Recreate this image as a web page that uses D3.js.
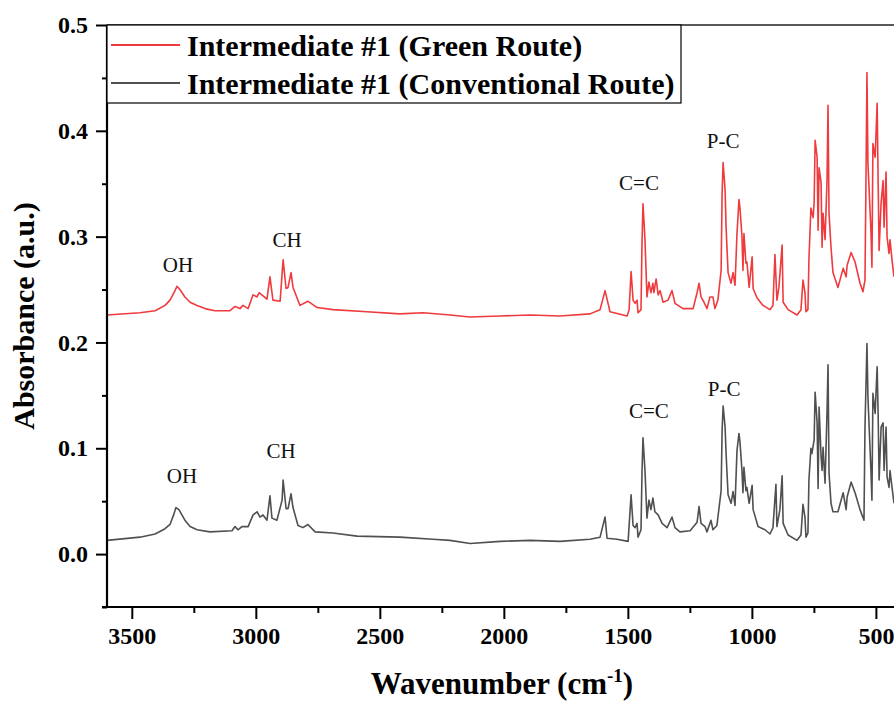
<!DOCTYPE html>
<html>
<head>
<meta charset="utf-8">
<script src="https://cdn.jsdelivr.net/npm/d3@7"></script>
<style>
  body { margin: 0; background: #fff; }
  text { font-family: "Liberation Serif", "Times New Roman", serif; }
</style>
</head>
<body>
<div id="chart"></div>
<script>
const width = 894;
const height = 702;

// spectra: [wavenumber (cm-1), absorbance]
const greenRoute = [
  [3600,0.226],[3467,0.228],[3406,0.230],[3366,0.235],[3346,0.240],[3330,0.247],[3318,0.253],
  [3306,0.250],[3286,0.243],[3265,0.238],[3237,0.235],[3205,0.232],[3165,0.230],
  [3104,0.230],[3084,0.234],[3064,0.232],[3052,0.235],[3031,0.232],[3011,0.245],[2995,0.243],
  [2987,0.247],[2955,0.241],[2943,0.262],[2931,0.240],[2902,0.239],[2890,0.278],[2878,0.251],
  [2870,0.252],[2858,0.266],[2850,0.252],[2822,0.235],[2790,0.239],[2753,0.233],[2689,0.231],
  [2552,0.229],[2419,0.227],[2326,0.228],[2217,0.226],[2136,0.224],[2015,0.225],[1894,0.226],
  [1773,0.225],[1653,0.227],[1612,0.231],[1592,0.249],[1572,0.229],[1503,0.225],[1495,0.231],
  [1487,0.267],[1479,0.240],[1471,0.237],[1463,0.240],[1459,0.228],[1447,0.231],[1443,0.294],
  [1439,0.331],[1431,0.297],[1423,0.243],[1415,0.257],[1407,0.247],[1399,0.256],[1395,0.247],
  [1386,0.260],[1378,0.245],[1370,0.249],[1358,0.238],[1338,0.240],[1322,0.249],[1310,0.237],
  [1278,0.232],[1237,0.232],[1221,0.247],[1213,0.256],[1205,0.243],[1193,0.238],[1181,0.232],
  [1169,0.243],[1157,0.243],[1149,0.232],[1137,0.240],[1124,0.268],[1120,0.341],[1116,0.370],
  [1108,0.344],[1104,0.309],[1096,0.266],[1084,0.256],[1076,0.266],[1068,0.254],[1060,0.303],
  [1052,0.335],[1048,0.327],[1040,0.300],[1036,0.268],[1032,0.303],[1024,0.275],[1020,0.276],
  [1011,0.252],[999,0.281],[995,0.251],[979,0.242],[955,0.235],[927,0.231],[915,0.235],
  [907,0.283],[899,0.240],[891,0.252],[878,0.292],[874,0.238],[854,0.231],[818,0.226],
  [802,0.231],[794,0.259],[786,0.247],[782,0.229],[774,0.231],[770,0.278],[762,0.327],
  [753,0.318],[749,0.332],[745,0.391],[737,0.375],[733,0.306],[729,0.365],[721,0.351],
  [717,0.290],[713,0.322],[705,0.297],[697,0.353],[693,0.424],[689,0.322],[681,0.290],
  [673,0.266],[653,0.252],[632,0.270],[620,0.262],[616,0.273],[600,0.285],[584,0.276],
  [564,0.256],[552,0.248],[544,0.259],[540,0.353],[536,0.455],[532,0.369],[520,0.306],
  [516,0.271],[512,0.388],[503,0.375],[495,0.426],[491,0.353],[487,0.287],[479,0.332],
  [471,0.353],[467,0.309],[459,0.361],[455,0.300],[447,0.284],[443,0.297],[435,0.278],
  [427,0.262]
];

const conventionalRoute = [
  [3600,0.013],[3467,0.016],[3406,0.019],[3366,0.024],[3346,0.028],[3330,0.038],[3322,0.044],
  [3310,0.042],[3286,0.032],[3265,0.026],[3237,0.023],[3185,0.021],
  [3096,0.022],[3084,0.026],[3072,0.023],[3056,0.026],[3031,0.026],[3011,0.037],[2995,0.040],
  [2983,0.035],[2971,0.037],[2955,0.032],[2943,0.055],[2935,0.034],[2915,0.032],[2894,0.051],
  [2890,0.070],[2878,0.043],[2870,0.043],[2858,0.057],[2850,0.044],[2830,0.027],[2810,0.025],
  [2790,0.028],[2761,0.021],[2689,0.020],[2592,0.017],[2419,0.016],[2286,0.014],[2217,0.013],
  [2136,0.010],[2015,0.012],[1894,0.013],[1773,0.012],[1653,0.014],[1612,0.016],[1592,0.035],
  [1584,0.015],[1544,0.014],[1499,0.012],[1487,0.056],[1479,0.027],[1471,0.025],[1463,0.029],
  [1459,0.016],[1447,0.023],[1443,0.077],[1439,0.110],[1431,0.079],[1423,0.034],[1415,0.051],
  [1407,0.042],[1399,0.053],[1391,0.040],[1378,0.037],[1362,0.029],[1342,0.025],[1322,0.035],
  [1310,0.025],[1290,0.021],[1249,0.022],[1221,0.030],[1213,0.045],[1205,0.029],[1189,0.026],
  [1181,0.021],[1165,0.032],[1157,0.023],[1141,0.027],[1124,0.060],[1120,0.117],[1116,0.140],
  [1108,0.120],[1104,0.095],[1096,0.056],[1084,0.048],[1076,0.059],[1068,0.046],[1060,0.098],
  [1052,0.114],[1048,0.106],[1040,0.079],[1036,0.058],[1032,0.082],[1024,0.060],[1020,0.063],
  [1011,0.048],[999,0.065],[995,0.042],[975,0.026],[947,0.023],[927,0.019],[915,0.025],
  [903,0.066],[899,0.026],[887,0.042],[878,0.074],[874,0.029],[854,0.018],[818,0.013],
  [802,0.018],[794,0.047],[786,0.035],[782,0.016],[774,0.020],[770,0.070],[762,0.100],
  [758,0.095],[749,0.108],[745,0.153],[737,0.124],[733,0.062],[729,0.139],[721,0.092],
  [717,0.079],[713,0.101],[705,0.067],[697,0.134],[693,0.179],[689,0.077],[681,0.048],
  [673,0.040],[653,0.040],[632,0.058],[620,0.042],[616,0.054],[600,0.068],[584,0.058],
  [564,0.042],[548,0.032],[544,0.120],[536,0.199],[532,0.148],[520,0.079],[516,0.051],
  [512,0.152],[503,0.133],[495,0.177],[491,0.133],[487,0.070],[479,0.120],[471,0.124],
  [467,0.079],[459,0.120],[455,0.073],[447,0.063],[443,0.079],[435,0.063],[427,0.048]
];

const seriesNames = ["Intermediate #1 (Green Route)", "Intermediate #1 (Conventional Route)"];
const seriesColors = ["#ef3b3e", "#505050"];

const xMajorTicks = [3500, 3000, 2500, 2000, 1500, 1000, 500];
const xMinorTicks = [3250, 2750, 2250, 1750, 1250, 750];
const yMajorTicks = [0.0, 0.1, 0.2, 0.3, 0.4, 0.5];
const yMinorTicks = [-0.05, 0.05, 0.15, 0.25, 0.35, 0.45];

// peak labels: [text, wavenumber, absorbance at baseline]
const greenLabels = [["OH", 3314, 0.267], ["CH", 2874, 0.290], ["C=C", 1455, 0.344], ["P-C", 1116, 0.384]];
const convLabels = [["OH", 3298, 0.067], ["CH", 2898, 0.091], ["C=C", 1415, 0.129], ["P-C", 1112, 0.149]];

const plotLeft = 107, plotRight = 894, plotTop = 25, plotBottom = 607;

const svg = d3.select("#chart").append("svg")
  .attr("width", width)
  .attr("height", height);

const x = d3.scaleLinear().domain([3600, 427]).range([plotLeft, plotRight]);
const y = d3.scaleLinear().domain([-0.05, 0.5]).range([plotBottom, plotTop]);

svg.append("clipPath").attr("id", "plot-clip")
  .append("rect")
  .attr("x", plotLeft).attr("y", plotTop)
  .attr("width", plotRight - plotLeft).attr("height", plotBottom - plotTop);

const line = d3.line()
  .x(d => x(d[0]))
  .y(d => y(d[1]));

// conventional first so the red stays on top
[[conventionalRoute, seriesColors[1]], [greenRoute, seriesColors[0]]].forEach(([data, color]) => {
  svg.append("path")
    .datum(data)
    .attr("clip-path", "url(#plot-clip)")
    .attr("fill", "none")
    .attr("stroke", color)
    .attr("stroke-width", 1.6)
    .attr("stroke-linejoin", "round")
    .attr("d", line);
});

// peak labels
const addLabels = (labels) => {
  svg.append("g").selectAll("text")
    .data(labels)
    .join("text")
    .attr("x", d => x(d[1]))
    .attr("y", d => y(d[2]))
    .attr("text-anchor", "middle")
    .style("font-size", "21px")
    .attr("fill", "#111")
    .text(d => d[0]);
};
addLabels(greenLabels);
addLabels(convLabels);

// axes
const fmtY = d3.format(".1f");

const xAxis = svg.append("g")
  .attr("transform", `translate(0,${plotBottom})`)
  .call(d3.axisBottom(x).tickValues(xMajorTicks).tickSize(12).tickPadding(6).tickFormat(d3.format("d")));
svg.append("g")
  .attr("transform", `translate(0,${plotBottom})`)
  .call(d3.axisBottom(x).tickValues(xMinorTicks).tickSize(6).tickFormat(""));

const yAxis = svg.append("g")
  .attr("transform", `translate(${plotLeft},0)`)
  .call(d3.axisLeft(y).tickValues(yMajorTicks).tickSize(11).tickPadding(8).tickFormat(fmtY));
svg.append("g")
  .attr("transform", `translate(${plotLeft},0)`)
  .call(d3.axisLeft(y).tickValues(yMinorTicks).tickSize(5).tickFormat(""));

svg.selectAll(".domain").remove();
svg.selectAll(".tick line").attr("stroke", "#000").attr("stroke-width", 2);
svg.selectAll(".tick text")
  .attr("fill", "#000")
  .style("font-family", "'Liberation Serif', 'Times New Roman', serif")
  .style("font-size", "24px")
  .style("font-weight", "bold");
xAxis.selectAll(".tick text").attr("dy", "0.8em");

// frame lines: left + bottom axis, thin top
svg.append("line")
  .attr("x1", plotLeft).attr("x2", plotLeft).attr("y1", plotTop).attr("y2", plotBottom + 1)
  .attr("stroke", "#000").attr("stroke-width", 2.2);
svg.append("line")
  .attr("x1", plotLeft - 5).attr("x2", plotRight).attr("y1", plotBottom).attr("y2", plotBottom)
  .attr("stroke", "#000").attr("stroke-width", 2.2);
svg.append("line")
  .attr("x1", plotLeft).attr("x2", plotRight).attr("y1", plotTop).attr("y2", plotTop)
  .attr("stroke", "#222").attr("stroke-width", 1.6);

// axis titles
svg.append("text")
  .attr("x", 502).attr("y", 694)
  .attr("text-anchor", "middle")
  .style("font-size", "31px")
  .style("font-weight", "bold")
  .call(t => {
    t.append("tspan").text("Wavenumber (cm");
    t.append("tspan").attr("dy", -12).style("font-size", "19px").text("-1");
    t.append("tspan").attr("dy", 12).text(")");
  });

svg.append("text")
  .attr("transform", "translate(34,316) rotate(-90)")
  .attr("text-anchor", "middle")
  .style("font-size", "30px")
  .style("font-weight", "bold")
  .text("Absorbance (a.u.)");

// legend
const legend = svg.append("g");
legend.append("rect")
  .attr("x", plotLeft).attr("y", plotTop)
  .attr("width", 681 - plotLeft).attr("height", 103 - plotTop)
  .attr("fill", "#fff")
  .attr("stroke", "#000")
  .attr("stroke-width", 1.2);

seriesNames.forEach((name, i) => {
  const ly = 45 + i * 38;
  legend.append("line")
    .attr("x1", 111).attr("x2", 180)
    .attr("y1", ly).attr("y2", ly)
    .attr("stroke", seriesColors[i])
    .attr("stroke-width", 2);
  legend.append("text")
    .attr("x", 187).attr("y", ly + 11)
    .style("font-size", "30px")
    .style("font-weight", "bold")
    .text(name);
});
</script>
</body>
</html>
